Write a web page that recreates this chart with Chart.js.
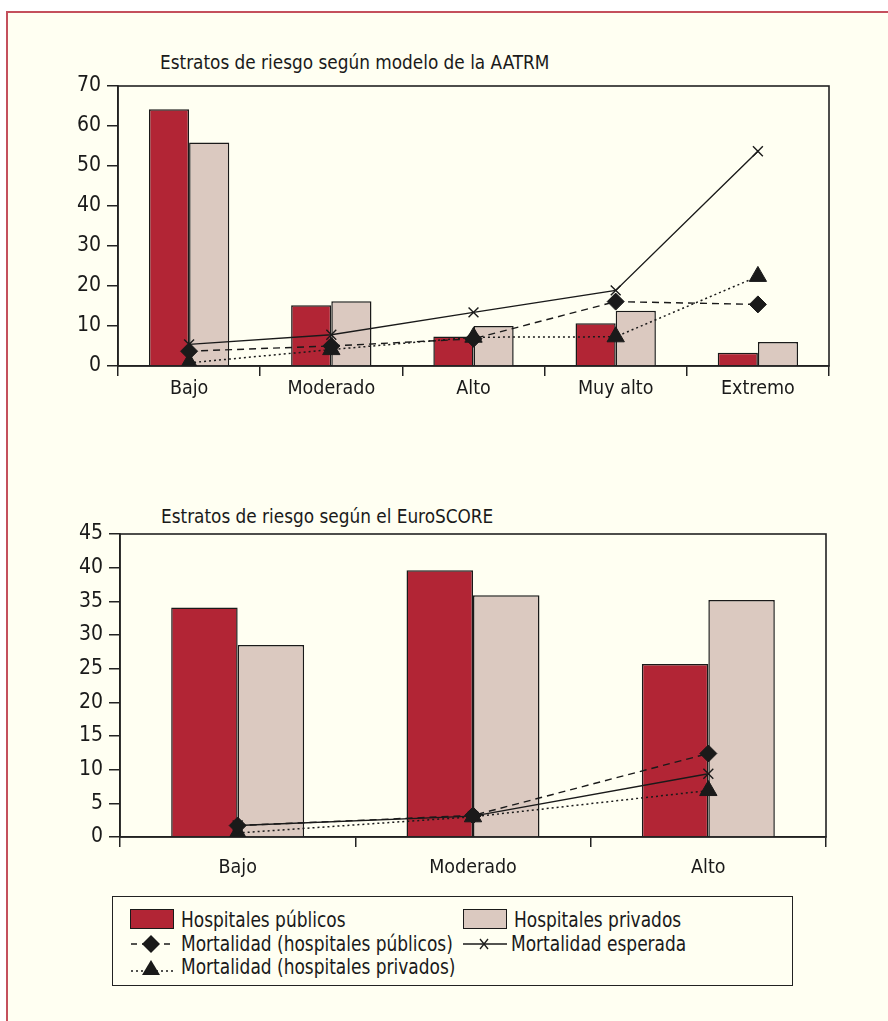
<!DOCTYPE html>
<html>
<head>
<meta charset="utf-8">
<script src="https://cdn.jsdelivr.net/npm/chart.js@4.4.1/dist/chart.umd.min.js"></script>
<style>
  html, body { margin: 0; padding: 0; background: #ffffff; }
  body {
    width: 888px; height: 1021px; position: relative; overflow: hidden;
    font-family: 'Liberation Sans Narrow', 'DejaVu Sans Condensed', sans-serif;
    color: #1a1a1a;
  }
  #frame {
    position: absolute; left: 6px; top: 11px; width: 900px; height: 1030px;
    background: #fffff2;
    border-left: 2px solid #c4505c; border-top: 2px solid #c4505c;
  }
  .title {
    position: absolute; font-size: 20px; line-height: 20px; white-space: nowrap;
    transform: scaleX(0.94); transform-origin: 0 50%;
  }
  canvas { position: absolute; left: 0; }
  #legend {
    position: absolute; left: 112px; top: 896px; width: 679px; height: 88px;
    border: 1.5px solid #222; box-sizing: content-box;
  }
  .item {
    position: absolute; font-size: 21px; line-height: 22px; white-space: nowrap;
    transform: scaleX(0.9); transform-origin: 0 50%;
  }
  .sym { position: absolute; }
  .swatch { position: absolute; box-sizing: border-box; border: 1.5px solid #1a1a1a; }
</style>
</head>
<body>
<div id="frame"></div>

<div class="title" style="left:160px; top:52px;">Estratos de riesgo según modelo de la AATRM</div>
<canvas id="aatrm" width="888" height="410" style="top:0px;"></canvas>

<div class="title" style="left:161px; top:506px;">Estratos de riesgo según el EuroSCORE</div>
<canvas id="euroscore" width="888" height="450" style="top:440px;"></canvas>

<div id="legend"></div>

<script>
// ---- AATRM risk strata ----
const aatrmCategories = ['Bajo', 'Moderado', 'Alto', 'Muy alto', 'Extremo'];
const aatrmPublic     = [64.2, 15.2, 7.4, 10.7, 3.3];
const aatrmPrivate    = [55.9, 16.2, 10.0, 13.8, 6.0];
const aatrmMortPublic = [3.7, 5.0, 6.8, 16.1, 15.4];
const aatrmMortPrivate= [0.8, 4.1, 7.2, 7.3, 22.4];
const aatrmMortExpected=[5.4, 7.8, 13.4, 18.9, 53.7];
const aatrmYTicks     = { max: 70, step: 10 };

// ---- EuroSCORE risk strata ----
const euroCategories  = ['Bajo', 'Moderado', 'Alto'];
const euroPublic      = [34.1, 39.6, 25.7];
const euroPrivate     = [28.5, 35.9, 35.2];
const euroMortPublic  = [1.7, 3.2, 12.4];
const euroMortPrivate = [0.6, 3.0, 6.9];
const euroMortExpected= [1.7, 3.1, 9.4];
const euroYTicks      = { max: 45, step: 5 };

const seriesNames = {
  pub: 'Hospitales públicos',
  priv: 'Hospitales privados',
  mPub: 'Mortalidad (hospitales públicos)',
  mPriv: 'Mortalidad (hospitales privados)',
  mExp: 'Mortalidad esperada'
};

const RED = '#b22535';
const BEIGE = '#dbc9c0';
const INK = '#1a1a1a';
const AXIS = '#222222';

Chart.defaults.font.family = "'Liberation Sans Narrow', 'DejaVu Sans Condensed', sans-serif";
Chart.defaults.font.size = 21;
Chart.defaults.color = INK;

// Closed box around the plotting area
const plotBox = {
  id: 'plotBox',
  beforeDatasetsDraw(chart) {
    const { ctx, chartArea: a } = chart;
    ctx.save();
    ctx.strokeStyle = AXIS;
    ctx.lineWidth = 1.6;
    ctx.strokeRect(a.left, a.top, a.right - a.left, a.bottom - a.top);
    ctx.restore();
  }
};

function buildChart(id, cats, pub, priv, mPub, mPriv, mExp, yTicks, geom) {
  return new Chart(document.getElementById(id), {
    type: 'bar',
    data: {
      labels: cats,
      datasets: [
        { label: seriesNames.mPub, type: 'line', data: mPub, order: 1,
          borderColor: INK, borderWidth: 1.4, borderDash: [7, 5],
          pointStyle: 'rectRot', pointRadius: 8.5, pointBackgroundColor: INK,
          pointBorderColor: INK, pointBorderWidth: 1, fill: false, tension: 0 },
        { label: seriesNames.mPriv, type: 'line', data: mPriv, order: 1,
          borderColor: INK, borderWidth: 1.5, borderDash: [2, 3],
          pointStyle: 'triangle', pointRadius: 10, pointBackgroundColor: INK,
          pointBorderColor: INK, pointBorderWidth: 1, fill: false, tension: 0 },
        { label: seriesNames.mExp, type: 'line', data: mExp, order: 1,
          borderColor: INK, borderWidth: 1.4,
          pointStyle: 'crossRot', pointRadius: 7, pointBorderColor: INK,
          pointBorderWidth: 1.4, fill: false, tension: 0 },
        { label: seriesNames.pub, data: pub, order: 2,
          backgroundColor: RED, borderColor: INK, borderWidth: 1.5,
          categoryPercentage: 0.565, barPercentage: 1.0 },
        { label: seriesNames.priv, data: priv, order: 2,
          backgroundColor: BEIGE, borderColor: INK, borderWidth: 1.5,
          categoryPercentage: 0.565, barPercentage: 1.0 }
      ]
    },
    options: {
      responsive: false,
      animation: false,
      devicePixelRatio: 1,
      layout: { padding: geom.padding },
      plugins: { legend: { display: false }, tooltip: { enabled: false }, title: { display: false } },
      scales: {
        x: {
          grid: { offset: true, drawOnChartArea: false, drawTicks: true, tickLength: 10, color: AXIS, lineWidth: 1.5 },
          border: { display: true, color: AXIS, width: 1.6 },
          ticks: { padding: geom.xPad, maxRotation: 0, autoSkip: false, font: { size: 19.5 } },
          afterFit(scale) { scale.height = geom.xHeight; }
        },
        y: {
          min: 0, max: yTicks.max,
          grid: { drawOnChartArea: false, drawTicks: true, tickLength: 11, color: AXIS, lineWidth: 1.5 },
          border: { display: true, color: AXIS, width: 1.6 },
          ticks: { stepSize: yTicks.step, padding: 6, font: { size: 21 } },
          afterFit(scale) { scale.width = geom.yWidth; }
        }
      }
    },
    plugins: [plotBox]
  });
}

buildChart('aatrm', aatrmCategories, aatrmPublic, aatrmPrivate,
  aatrmMortPublic, aatrmMortPrivate, aatrmMortExpected, aatrmYTicks,
  { padding: { left: 0, right: 59, top: 86, bottom: 0 }, xHeight: 44, yWidth: 118, xPad: 1 });

buildChart('euroscore', euroCategories, euroPublic, euroPrivate,
  euroMortPublic, euroMortPrivate, euroMortExpected, euroYTicks,
  { padding: { left: 0, right: 62, top: 94, bottom: 0 }, xHeight: 53, yWidth: 120, xPad: 9 });

// ---- Shared legend ----
const legend = document.getElementById('legend');
const SVGNS = 'http://www.w3.org/2000/svg';
function svgSym(x, y, w, h, draw) {
  const s = document.createElementNS(SVGNS, 'svg');
  s.setAttribute('width', w); s.setAttribute('height', h);
  s.setAttribute('class', 'sym');
  s.style.left = x + 'px'; s.style.top = y + 'px';
  s.innerHTML = draw;
  legend.appendChild(s);
}
function label(x, y, text) {
  const d = document.createElement('div');
  d.className = 'item';
  d.style.left = x + 'px'; d.style.top = y + 'px';
  d.textContent = text;
  legend.appendChild(d);
}
function swatch(x, y, color) {
  const d = document.createElement('div');
  d.className = 'swatch';
  d.style.left = x + 'px'; d.style.top = y + 'px';
  d.style.width = '44px'; d.style.height = '20px';
  d.style.background = color;
  legend.appendChild(d);
}
// legend coordinates are relative to the box
swatch(17, 12, RED);
label(68, 12, seriesNames.pub);
swatch(350, 12, BEIGE);
label(401, 12, seriesNames.priv);

svgSym(18, 36, 42, 22,
  '<line x1="0" y1="11" x2="42" y2="11" stroke="#1a1a1a" stroke-width="1.4" stroke-dasharray="6,5"/>' +
  '<polygon points="20,2 29,11 20,20 11,11" fill="#1a1a1a"/>');
label(68, 36, seriesNames.mPub);
svgSym(350, 36, 44, 22,
  '<line x1="0" y1="11" x2="44" y2="11" stroke="#1a1a1a" stroke-width="1.4"/>' +
  '<line x1="17" y1="6" x2="25" y2="16" stroke="#1a1a1a" stroke-width="1.3"/>' +
  '<line x1="25" y1="6" x2="17" y2="16" stroke="#1a1a1a" stroke-width="1.3"/>');
label(398, 36, seriesNames.mExp);

svgSym(18, 59, 42, 22,
  '<line x1="0" y1="15" x2="42" y2="15" stroke="#1a1a1a" stroke-width="1.4" stroke-dasharray="2,3"/>' +
  '<polygon points="20,4 29,19 11,19" fill="#1a1a1a"/>');
label(68, 59, seriesNames.mPriv);
</script>
</body>
</html>
